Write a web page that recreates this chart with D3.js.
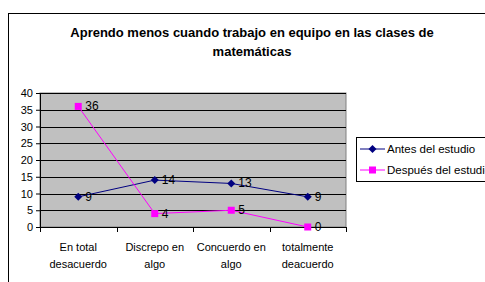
<!DOCTYPE html>
<html><head><meta charset="utf-8">
<script src="https://cdn.jsdelivr.net/npm/d3@7"></script>
<style>body{margin:0;background:#fff}svg{display:block;font-family:"Liberation Sans",Arial,sans-serif}</style>
</head><body>
<svg id="c" width="485" height="282"></svg>
<script>
const categories = [["En total","desacuerdo"],["Discrepo en","algo"],["Concuerdo en","algo"],["totalmente","deacuerdo"]];
const seriesNames = ["Antes del estudio","Después del estudio"];
const antes = [9,14,13,9];
const despues = [36,4,5,0];
const yTicks = [0,5,10,15,20,25,30,35,40];
const titleLines = ["Aprendo menos cuando trabajo en equipo en las clases de","matemáticas"];

const svg = d3.select("#c");
svg.append("rect").attr("x",8.5).attr("y",13.5).attr("width",600).attr("height",400).attr("fill","#fff").attr("stroke","#000");

const L=40,R=346,T=93,B=227;
const x = d3.scaleBand().domain(d3.range(categories.length)).range([L,R]);
const y = d3.scaleLinear().domain([0,40]).range([B,T]);

svg.append("rect").attr("x",L).attr("y",T).attr("width",R-L).attr("height",B-T).attr("fill","#c0c0c0").attr("stroke","#808080");
svg.append("g").selectAll("line").data(yTicks.filter(d=>d>0)).join("line")
  .attr("x1",L).attr("x2",R).attr("y1",d=>Math.round(y(d))+0.5).attr("y2",d=>Math.round(y(d))+0.5).attr("stroke","#000");

const yAxis = svg.append("g").attr("transform",`translate(${L},0)`).call(d3.axisLeft(y).tickValues(yTicks).tickSize(4).tickPadding(3));
yAxis.selectAll("text").attr("font-size",11).attr("fill","#000").attr("font-family","Liberation Sans, Arial");
yAxis.selectAll("line,path").attr("stroke","#000");

const xg = svg.append("g").attr("transform",`translate(0,${B})`);
xg.append("line").attr("x1",L).attr("x2",R).attr("y1",0.5).attr("y2",0.5).attr("stroke","#000");
xg.selectAll("line.t").data(d3.range(categories.length+1)).join("line").attr("class","t")
  .attr("x1",i=>Math.round(L+i*x.bandwidth())+0.5).attr("x2",i=>Math.round(L+i*x.bandwidth())+0.5).attr("y1",0).attr("y2",5).attr("stroke","#000");
categories.forEach((c,i)=>{
  const t = xg.append("text").attr("text-anchor","middle").attr("font-size",11).attr("fill","#000");
  c.forEach((s,j)=>t.append("tspan").attr("x",x(i)+x.bandwidth()/2).attr("y",24+j*17).text(s));
});

const cx = i=>x(i)+x.bandwidth()/2;
const line = d3.line().x((d,i)=>cx(i)).y(d=>y(d));
const series=[{v:antes,c:"#000080",m:"diamond"},{v:despues,c:"#ff00ff",m:"square"}];
series.forEach(s=>{
  svg.append("path").attr("d",line(s.v)).attr("fill","none").attr("stroke",s.c).attr("stroke-width",1);
});
function marker(g,type,px,py,c){
  if(type==="diamond") g.append("path").attr("d",`M${px},${py-4}L${px+4},${py}L${px},${py+4}L${px-4},${py}Z`).attr("fill",c);
  else g.append("rect").attr("x",px-3.5).attr("y",py-3.5).attr("width",7).attr("height",7).attr("fill",c);
}
series.forEach(s=>{
  s.v.forEach((d,i)=>{
    marker(svg,s.m,cx(i),y(d),s.c);
    svg.append("text").attr("x",cx(i)+7).attr("y",y(d)+4).attr("font-size",12).attr("fill","#000").text(d);
  });
});

svg.append("g").selectAll("text").data(titleLines).join("text")
  .attr("x",252).attr("y",(d,i)=>37+i*19).attr("text-anchor","middle").attr("font-size",13).attr("font-weight","bold").text(d=>d);

const lg = svg.append("g");
lg.append("rect").attr("x",356.5).attr("y",137.5).attr("width",200).attr("height",44).attr("fill","#fff").attr("stroke","#000");
series.forEach((s,i)=>{
  const ly = 149+i*21;
  lg.append("line").attr("x1",360).attr("x2",385).attr("y1",ly).attr("y2",ly).attr("stroke",s.c);
  marker(lg,s.m,372.5,ly,s.c);
  lg.append("text").attr("x",387).attr("y",ly+4).attr("font-size",11.5).text(seriesNames[i]);
});
</script>
</body></html>
